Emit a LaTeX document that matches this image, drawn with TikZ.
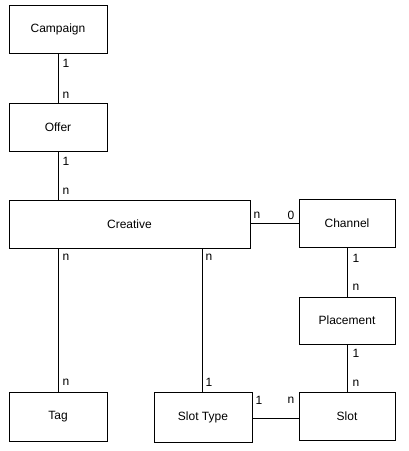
\documentclass[tikz,border=0pt]{standalone}
\usepackage{fontspec}
\setmainfont{Liberation Sans}
\begin{document}
\begin{tikzpicture}[x=1pt,y=-1pt,
  entity/.style={draw=black,line width=1pt,fill=white,inner sep=0pt,minimum width=98pt,minimum height=48pt,font=\fontsize{12}{14}\selectfont},
  card/.style={inner sep=0pt,font=\fontsize{12}{14}\selectfont},
  conn/.style={draw=black,line width=1pt}]
\useasboundingbox (0,0) rectangle (409,451);
\node[entity] (Campaign) at (58,29.5) {Campaign};
\node[entity] (Offer) at (58,127) {Offer};
\node[entity,minimum width=241pt] (Creative) at (129.5,224) {Creative};
\node[entity,minimum width=96pt] (Channel) at (347,223) {Channel};
\node[entity,minimum width=96pt,minimum height=47pt] (Placement) at (347,320.5) {Placement};
\node[entity,minimum width=96pt] (Slot) at (347,416) {Slot};
\node[entity,minimum height=50pt] (SlotType) at (203,417) {Slot Type};
\node[entity,minimum height=49pt] (Tag) at (58,416.5) {Tag};

\draw[conn] (Campaign.south) -- (Offer.north);
\draw[conn] (Offer.south) -- (Offer.south |- Creative.north);
\draw[conn] (Tag.north) -- (Tag.north |- Creative.south);
\draw[conn] (SlotType.north) ++(-1,0) coordinate (stn) -- (stn |- Creative.south);
\draw[conn] (Channel.west) -- (Channel.west -| Creative.east);
\draw[conn] (Channel.south) -- (Placement.north);
\draw[conn] (Placement.south) -- (Slot.north);
\draw[conn] (SlotType.east) ++(0,1) coordinate (ste) -- (ste -| Slot.west);

\node[card] (l1) at (66,63) {1};
\node[card] (l2) at (66,95) {n};
\node[card] (l3) at (66,161) {1};
\node[card] (l4) at (66,191) {n};
\node[card] (l5) at (66,257) {n};
\node[card] (l6) at (66,382) {n};
\node[card] (l7) at (209,257) {n};
\node[card] (l8) at (209,382) {1};
\node[card] (l9) at (259,400) {1};
\node[card] (l10) at (291,400) {n};
\node[card] (l11) at (257,215) {n};
\node[card] (l12) at (291,215) {0};
\node[card] (l13) at (356,258) {1};
\node[card] (l14) at (356,287) {n};
\node[card] (l15) at (356,353) {1};
\node[card] (l16) at (356,383) {n};
\end{tikzpicture}
\end{document}
